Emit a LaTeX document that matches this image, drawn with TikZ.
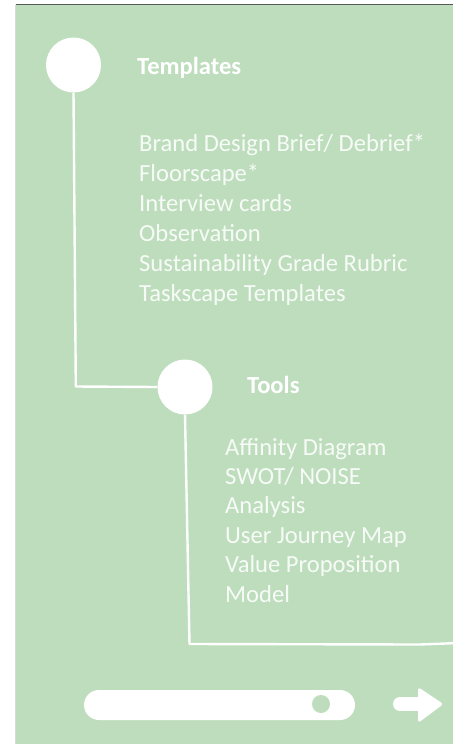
\documentclass[tikz,border=0pt]{standalone}
\usepackage{fontspec}
\setmainfont{Carlito}
\usetikzlibrary{positioning}

\definecolor{sage}{RGB}{190,221,189}
\definecolor{topbar}{RGB}{85,90,85}

\begin{document}
\begin{tikzpicture}[x=1pt, y=-1pt,
    dot/.style={circle, fill=white, minimum size=55pt, inner sep=0pt},
    knob/.style={circle, fill=sage, minimum size=18pt, inner sep=0pt},
    track/.style={draw=white, line width=2.4pt, line join=round},
    heading/.style={text=white, font=\fontsize{24.6}{30}\selectfont\bfseries, anchor=base west, inner sep=0pt},
    item/.style={text=white!88!sage, font=\fontsize{24.6}{30}\selectfont, anchor=base west, inner sep=0pt}]

    \useasboundingbox (0,0) rectangle (453,744);

    % Panel and top rule
    \fill[sage] (15.5,5) rectangle (453,744);
    \draw[gray!30, line width=0.6pt] (15.5,5) -- (15.5,744);
    \draw[topbar, line width=1.5pt] (15.5,4.5) -- (453,4.5);

    % Stations
    \node[dot] (tpl) at (73.5,65) {};
    \node[dot] (tools) at (185,387) {};

    % Track between stations
    \coordinate (bend1) at (75.8,386.5);
    \coordinate (bend2) at (189.5,644);
    \coordinate (exit) at (453,643.2);
    \draw[track] (tpl.south) -- (bend1) -- (tools.west);
    \draw[track] (tools.south) -- (bend2) -- (420,644.5) -- (exit);

    % Titles
    \node[heading] (tpl-title) at (137,74) {Templates};
    \node[heading] (tools-title) at (247,393) {Tools};

    % Template list
    \foreach \t [count=\i] in {Brand Design Brief/ Debrief*, Floorscape*, Interview cards,
        Observation, Sustainability Grade Rubric, Taskscape Templates}
        \node[item] (tpl-\i) at (139,151+30*\i-30) {\t};

    % Tools list
    \foreach \t [count=\i] in {Affinity Diagram, SWOT/ NOISE, Analysis,
        User Journey Map, Value Proposition, Model}
        \node[item] (tools-\i) at (225,455+29.4*\i-29.4) {\t};

    % Slider
    \fill[white, rounded corners=15pt] (84,690) rectangle (355,720);
    \node[knob] (knob) at (321,704) {};

    % Next arrow
    \draw[white, line width=14pt, line cap=round] (400,704) -- (426,704);
    \fill[white, rounded corners=3pt] (418,687) -- (443.5,704) -- (418,723) -- cycle;

\end{tikzpicture}
\end{document}
